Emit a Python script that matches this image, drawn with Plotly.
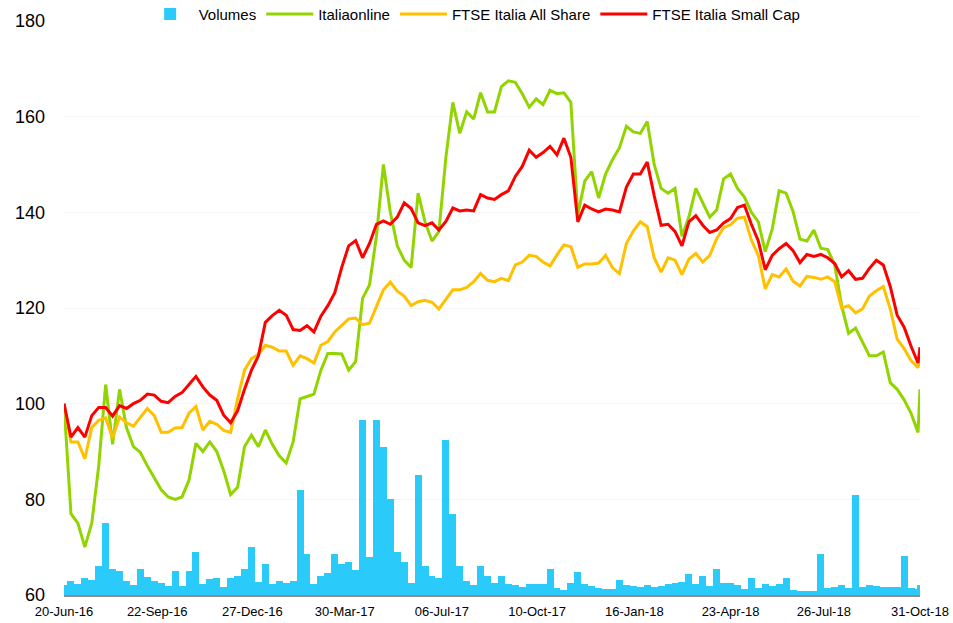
import pandas as pd
import plotly.graph_objects as go

# weekly observations (Mondays) plus the last session, 31-Oct-18
dates = list(pd.date_range("2016-06-20", periods=124, freq="7D")) + [pd.Timestamp("2018-10-31")]

italiaonline = [
    100, 77, 75, 70, 75, 87, 104, 91.5, 103, 95,
    91, 89.8, 87, 84.5, 82, 80.5, 80, 80.5, 84, 91.7,
    90, 92, 90, 86, 81, 82.5, 91, 93.4, 91, 94.5,
    91.5, 89.1, 87.6, 92, 101, 101.5, 102, 107, 110.5, 110.5,
    110.4, 107, 108.8, 122, 124.8, 135, 150, 140, 133, 130,
    128.5, 144, 138, 134, 136, 151.5, 163, 156.5, 161, 159.5,
    165, 161, 161, 166.3, 167.5, 167.2, 164.8, 162, 163.7, 162.5,
    165.5, 164.8, 165, 163, 139.5, 146.5, 148.5, 143, 148, 151,
    153.5, 158, 156.8, 156.5, 159, 150, 145, 144, 145, 135,
    139, 145, 142, 139, 140.5, 147, 148, 145, 143.2, 140,
    138, 131.8, 136.5, 144.5, 144, 140.2, 134.4, 134, 136.3, 132.5,
    132.2, 129, 120.5, 114.7, 115.8, 113, 110, 110, 110.8, 104.4,
    103, 100.8, 98, 94, 103]

all_share = [
    100, 92, 92, 88.5, 95, 96.5, 97, 92.8, 97.2, 96,
    95.3, 97.2, 99, 97.5, 94, 94, 94.9, 95, 98, 99.4,
    94.5, 96.3, 95.7, 94.4, 94, 101, 107, 109.4, 110.3, 112.2,
    111.8, 111, 111, 108, 110, 109.4, 108.5, 112.2, 113, 115,
    116.3, 117.7, 117.9, 116.5, 116.8, 120.3, 123.8, 125.4, 123.5, 122.5,
    120.5, 121.3, 121.6, 121.2, 119.8, 121.8, 123.8, 123.8, 124.3, 125.5,
    127.2, 125.8, 125.5, 126.2, 125.7, 129, 129.6, 131, 130.8, 129.6,
    128.8, 131.1, 133.2, 132.8, 128.5, 129.2, 129.2, 129.4, 131, 128.4,
    127.2, 133.5, 136.1, 138, 137, 130.5, 127.5, 130.5, 130, 127,
    130.2, 131.4, 129.6, 131, 134.5, 136.8, 137.4, 138.8, 139, 134.2,
    131, 124, 127, 126.5, 128.2, 125.6, 124.6, 126.6, 126.4, 126,
    126.5, 125.5, 120, 120.5, 119, 119.8, 122.5, 123.6, 124.5, 119.8,
    113.5, 111.5, 109, 107.5, 109.6]

small_cap = [
    100, 93, 95, 93, 97.5, 99.2, 99.2, 97.4, 99.6, 99,
    100, 100.7, 102, 101.8, 100.5, 100.2, 101.5, 102.3, 104, 105.7,
    103.5, 101.8, 100.7, 97.6, 96, 98.5, 103, 107, 110, 117,
    118.4, 119.5, 118.5, 115.5, 115.3, 116.3, 115, 118.3, 120.5, 123.2,
    128.5, 133, 134.1, 130.5, 133.5, 137.5, 138.2, 137.5, 139, 142,
    140.8, 137.8, 137.2, 137.8, 136.3, 138.1, 140.9, 140.3, 140.5, 140.3,
    143.7, 143, 142.7, 143.7, 144.5, 147.5, 149.6, 153, 151.5, 152.5,
    153.8, 152, 155.5, 151.5, 138, 141.5, 140.7, 140.1, 140.7, 140.5,
    140.1, 145.3, 148, 148, 150.5, 143.5, 137.3, 137.5, 136, 133,
    138, 139.3, 137.3, 135.8, 136.3, 137.8, 138.7, 141, 141.5, 137.5,
    134, 128, 131, 132.4, 133.5, 132, 129.5, 131.2, 130.8, 131.2,
    130.5, 129.3, 126.5, 127.8, 126, 126.2, 128.3, 130, 129, 124.5,
    118.5, 116, 112, 108.5, 111.8]

# Italiaonline volumes, thousand shares
volumes = [
    20, 30, 24, 35, 31, 60, 150, 55, 50, 30,
    20, 55, 38, 30, 26, 19, 50, 18, 50, 90,
    24, 33, 35, 17, 35, 40, 55, 100, 28, 65,
    24, 30, 25, 30, 220, 85, 22, 40, 45, 85,
    65, 70, 53, 365, 80, 365, 310, 200, 90, 70,
    26, 250, 60, 40, 35, 325, 170, 60, 30, 20,
    60, 40, 26, 40, 24, 20, 17, 24, 22, 24,
    55, 15, 10, 25, 49, 24, 18, 15, 13, 13,
    31, 20, 18, 17, 20, 17, 18, 24, 25, 28,
    44, 22, 40, 18, 55, 25, 25, 20, 12, 35,
    15, 24, 18, 22, 35, 10, 9, 9, 9, 85,
    15, 17, 20, 15, 210, 17, 20, 18, 17, 17,
    17, 82, 15, 12, 20]

tick_dates = ["2016-06-20", "2016-09-22", "2016-12-27", "2017-03-30", "2017-07-06",
              "2017-10-10", "2018-01-16", "2018-04-23", "2018-07-26", "2018-10-31"]
tick_labels = ["20-Jun-16", "22-Sep-16", "27-Dec-16", "30-Mar-17", "06-Jul-17",
               "10-Oct-17", "16-Jan-18", "23-Apr-18", "26-Jul-18", "31-Oct-18"]

fig = go.Figure()
fig.add_trace(go.Bar(x=dates, y=volumes, name="Volumes", marker_color="#2ACBFB",
                     marker_line_width=0, width=7 * 86400000, yaxis="y"))
fig.add_trace(go.Scatter(x=dates, y=italiaonline, name="Italiaonline", mode="lines",
                         line=dict(color="#92D400", width=3), yaxis="y2"))
fig.add_trace(go.Scatter(x=dates, y=all_share, name="FTSE Italia All Share", mode="lines",
                         line=dict(color="#FFC000", width=3), yaxis="y2"))
fig.add_trace(go.Scatter(x=dates, y=small_cap, name="FTSE Italia Small Cap", mode="lines",
                         line=dict(color="#FF0000", width=3), yaxis="y2"))

fig.update_layout(
    width=953, height=623,
    margin=dict(l=64, r=33, t=21, b=28, autoexpand=False),
    plot_bgcolor="white", paper_bgcolor="white",
    font=dict(family="Liberation Sans, Arial", color="black"),
    bargap=0,
    showlegend=True,
    legend=dict(orientation="h", xref="container", x=0.497, xanchor="center",
                yref="container", y=0.977, yanchor="middle",
                font=dict(size=15), itemwidth=47, traceorder="normal"),
    xaxis=dict(type="date", range=["2016-06-20", "2018-10-31"],
               tickvals=tick_dates, ticktext=tick_labels, tickfont=dict(size=13),
               showgrid=False, showline=True, linecolor="#8c8c8c", linewidth=2,
               ticks="", ticklabelstandoff=3),
    yaxis=dict(range=[0, 1200], visible=False, fixedrange=True),
    yaxis2=dict(overlaying="y", side="left", range=[60, 180], dtick=20,
                tickfont=dict(size=18), gridcolor="#f5f5f5", zeroline=False,
                showline=False, ticklabelstandoff=18),
)

# drop the page's default body margin so the figure sits at the window's corner
fig.write_html("out.html", config={"displayModeBar": False},
               post_script="document.body.style.margin='0';")
